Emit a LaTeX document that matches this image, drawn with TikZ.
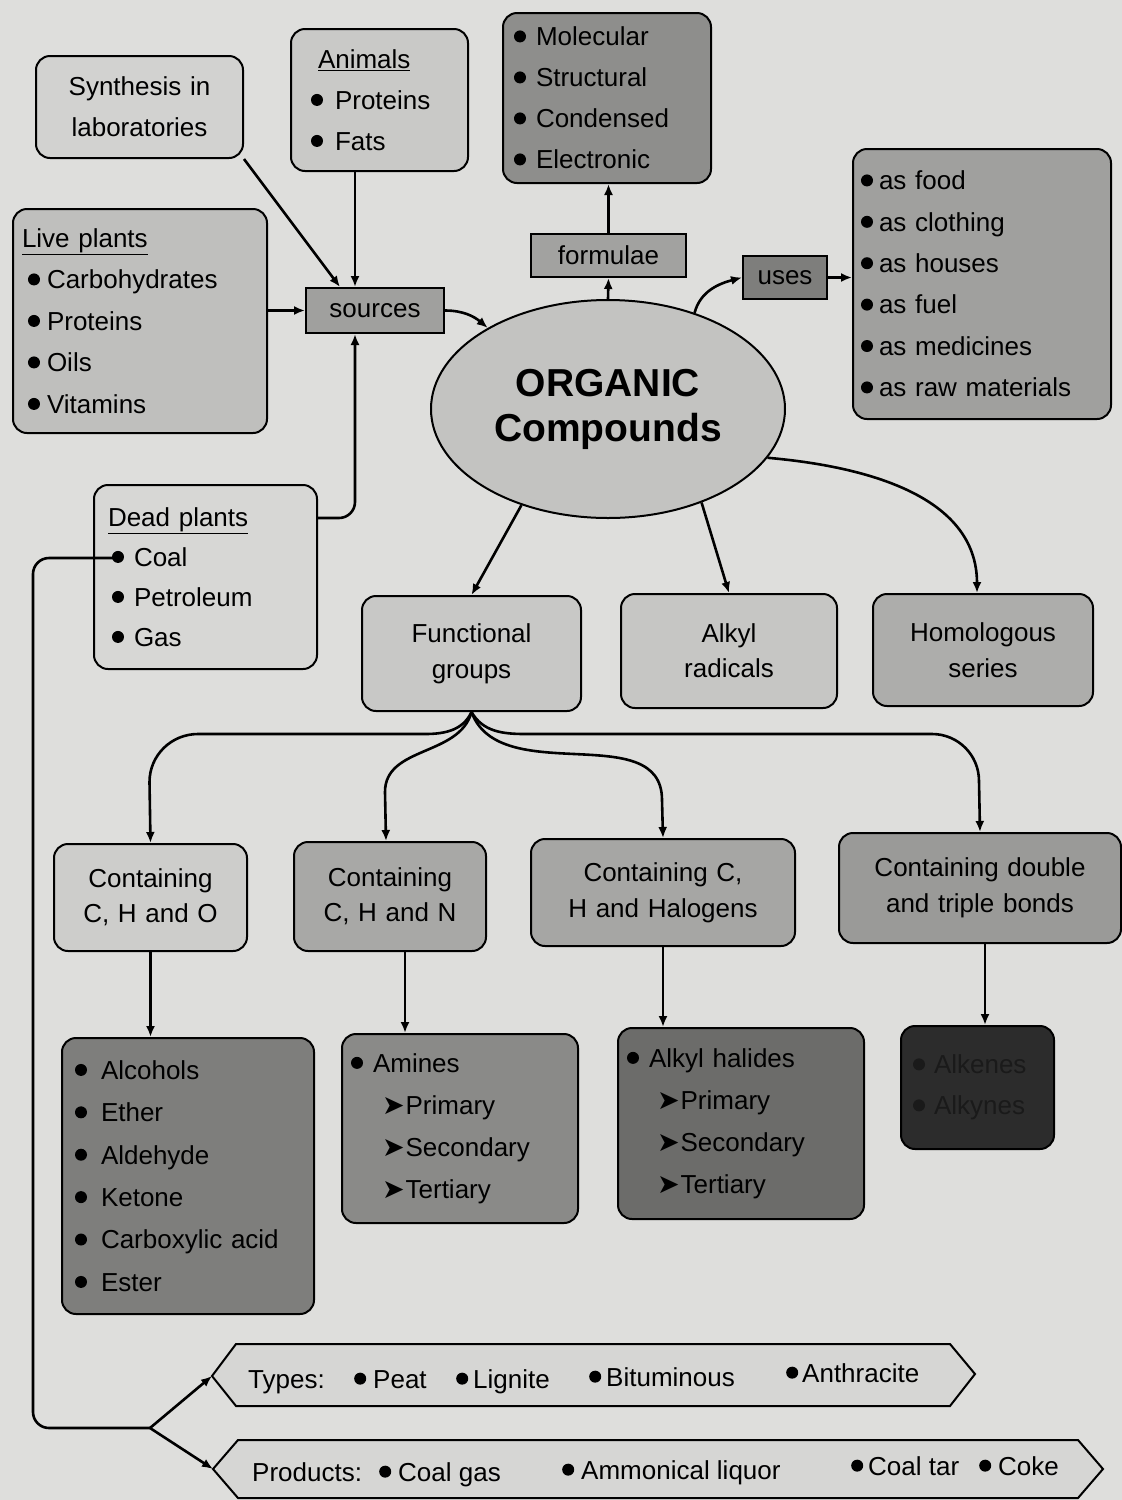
\documentclass[tikz,border=0pt]{standalone}
\usepackage{fontspec}
\setmainfont{Liberation Sans}
\newfontfamily\dejavu{DejaVu Sans}
\usetikzlibrary{arrows.meta,shapes.geometric,calc}
\definecolor{bg}{HTML}{DEDEDC}
\definecolor{cSyn}{HTML}{D2D2D0}
\definecolor{cAni}{HTML}{C9C9C7}
\definecolor{cForm}{HTML}{8E8E8C}
\definecolor{cFormR}{HTML}{A2A2A0}
\definecolor{cUsesR}{HTML}{7E7E7C}
\definecolor{cUses}{HTML}{A0A09E}
\definecolor{cLive}{HTML}{BFBFBD}
\definecolor{cSrc}{HTML}{A0A09E}
\definecolor{cOrg}{HTML}{C3C3C1}
\definecolor{cDead}{HTML}{D7D7D5}
\definecolor{cFunc}{HTML}{C8C8C6}
\definecolor{cAlkyl}{HTML}{C6C6C4}
\definecolor{cHom}{HTML}{ADADAB}
\definecolor{cCHO}{HTML}{CDCDCB}
\definecolor{cCHN}{HTML}{A8A8A6}
\definecolor{cCHX}{HTML}{A6A6A4}
\definecolor{cCDT}{HTML}{9A9A98}
\definecolor{cAlc}{HTML}{7E7E7C}
\definecolor{cAmi}{HTML}{8A8A88}
\definecolor{cHal}{HTML}{6C6C6A}
\definecolor{cDark}{HTML}{2C2C2C}
\definecolor{cDarkTxt}{HTML}{1A1A1A}
\definecolor{cBan}{HTML}{D6D6D4}
\newcommand\mybul{\tikz[x=1cm,y=1cm,baseline=-0.36em]\fill (0,0) circle (6pt);}
\newcommand\myarr{{\dejavu\fontsize{27}{27}\selectfont ➤}}
\tikzset{
  box/.style={draw, line width=2pt, rounded corners=14pt, inner sep=0pt, anchor=north west},
  rbox/.style={draw, line width=2pt, inner sep=0pt, anchor=north west, align=center},
  arr/.style={line width=2.6pt, -{Latex[length=11pt,width=9pt]}},
  conn/.style={line width=2.6pt},
  lbl/.style={anchor=base west, inner sep=0pt},
}
\begin{document}
\begin{tikzpicture}[x=1pt,y=-1pt,font=\fontsize{26}{41}\selectfont]
\useasboundingbox (0,0) rectangle (1122,1500);
\fill[bg] (0,0) rectangle (1122,1500);

% ---- top row
\node[box, fill=cSyn, minimum width=207pt, minimum height=102pt, text width=207pt, align=center] (synth) at (35,55) {Synthesis in\\laboratories};
\node[box, fill=cAni, minimum width=177pt, minimum height=142pt, inner xsep=20pt, text width=137pt, align=left] (animals) at (290,28)
  {\hspace*{7pt}\underline{Animals}\\\mybul\hspace{12pt}Proteins\\\mybul\hspace{12pt}Fats};
\node[box, fill=cForm, minimum width=208pt, minimum height=170pt, inner xsep=11pt, text width=186pt, align=left] (formbox) at (502,12)
  {\mybul\hspace{10pt}Molecular\\\mybul\hspace{10pt}Structural\\\mybul\hspace{10pt}Condensed\\\mybul\hspace{10pt}Electronic};
\node[rbox, fill=cFormR, minimum width=155pt, minimum height=43pt] (formulae) at (530,233) {formulae};
\node[rbox, fill=cUsesR, minimum width=84pt, minimum height=43pt] (uses) at (742,255) {uses};
\node[box, fill=cUses, minimum width=258pt, minimum height=270pt, inner xsep=8pt, text width=242pt, align=left, font=\fontsize{26}{41.4}\selectfont] (usesbox) at (852,148)
  {\mybul\hspace{6pt}as food\\\mybul\hspace{6pt}as clothing\\\mybul\hspace{6pt}as houses\\\mybul\hspace{6pt}as fuel\\\mybul\hspace{6pt}as medicines\\\mybul\hspace{6pt}as raw materials};

% ---- sources side
\node[box, fill=cLive, minimum width=254pt, minimum height=224pt, inner xsep=9pt, text width=236pt, align=left, font=\fontsize{26}{41.5}\selectfont] (live) at (12,208)
  {\underline{Live plants}\\\hspace*{6pt}\mybul\hspace{7pt}Carbohydrates\\\hspace*{6pt}\mybul\hspace{7pt}Proteins\\\hspace*{6pt}\mybul\hspace{7pt}Oils\\\hspace*{6pt}\mybul\hspace{7pt}Vitamins};
\node[rbox, fill=cSrc, minimum width=138pt, minimum height=45pt] (sources) at (305,287) {sources};
\node[box, fill=cDead, minimum width=223pt, minimum height=184pt, inner xsep=14pt, text width=195pt, align=left, font=\fontsize{26}{40}\selectfont] (dead) at (93,484)
  {\underline{Dead plants}\\\hspace*{4pt}\mybul\hspace{10pt}Coal\\\hspace*{4pt}\mybul\hspace{10pt}Petroleum\\\hspace*{4pt}\mybul\hspace{10pt}Gas};

% ---- centre
\node[ellipse, draw, line width=2pt, fill=cOrg, minimum width=354pt, minimum height=218pt, inner sep=0pt, align=center, font=\bfseries\fontsize{39}{45}\selectfont] (org) at (608,409) {ORGANIC\\Compounds};

\node[box, fill=cFunc, minimum width=219pt, minimum height=115pt, text width=219pt, align=center, font=\fontsize{26}{36}\selectfont] (func) at (361,595) {Functional\\groups};
\node[box, fill=cAlkyl, minimum width=216pt, minimum height=114pt, text width=216pt, align=center, font=\fontsize{26}{35}\selectfont] (alkyl) at (620,593) {Alkyl\\radicals};
\node[box, fill=cHom, minimum width=220pt, minimum height=112pt, text width=220pt, align=center, font=\fontsize{26}{36}\selectfont] (homol) at (872,593) {Homologous\\series};

% ---- containing row
\node[box, fill=cCHO, minimum width=193pt, minimum height=107pt, text width=193pt, align=center, font=\fontsize{26}{35}\selectfont] (cho) at (53,843) {Containing\\C, H and O};
\node[box, fill=cCHN, minimum width=192pt, minimum height=109pt, text width=192pt, align=center, font=\fontsize{26}{35}\selectfont] (chn) at (293,841) {Containing\\C, H and N};
\node[box, fill=cCHX, minimum width=264pt, minimum height=107pt, text width=264pt, align=center, font=\fontsize{26}{36}\selectfont] (chhal) at (530,838) {Containing C,\\H and Halogens};
\node[box, fill=cCDT, minimum width=282pt, minimum height=110pt, text width=282pt, align=center, font=\fontsize{26}{36}\selectfont] (chdt) at (838,832) {Containing double\\and triple bonds};

% ---- lower row
\node[box, fill=cAlc, minimum width=252pt, minimum height=276pt, inner xsep=13pt, text width=226pt, align=left, font=\fontsize{26}{42.4}\selectfont] (alc) at (61,1037)
  {\mybul\hspace{14pt}Alcohols\\\mybul\hspace{14pt}Ether\\\mybul\hspace{14pt}Aldehyde\\\mybul\hspace{14pt}Ketone\\\mybul\hspace{14pt}Carboxylic acid\\\mybul\hspace{14pt}Ester};
\node[box, fill=cAmi, minimum width=236pt, minimum height=189pt, inner xsep=9pt, text width=218pt, align=left, font=\fontsize{26}{42}\selectfont] (amines) at (341,1033)
  {\mybul\hspace{10pt}Amines\\\hspace*{31pt}\myarr\hspace{1pt}Primary\\\hspace*{31pt}\myarr\hspace{1pt}Secondary\\\hspace*{31pt}\myarr\hspace{1pt}Tertiary};
\node[box, fill=cHal, minimum width=246pt, minimum height=191pt, inner xsep=9pt, text width=228pt, align=left, font=\fontsize{26}{42}\selectfont] (alkhal) at (617,1027)
  {\mybul\hspace{10pt}Alkyl halides\\\hspace*{30pt}\myarr\hspace{1pt}Primary\\\hspace*{30pt}\myarr\hspace{1pt}Secondary\\\hspace*{30pt}\myarr\hspace{1pt}Tertiary};
\node[box, fill=cDark, text=cDarkTxt, minimum width=153pt, minimum height=123pt, inner xsep=12pt, text width=129pt, align=left, font=\fontsize{26}{41}\selectfont] (dark) at (900,1025)
  {\mybul\hspace{9pt}Alkenes\\\mybul\hspace{9pt}Alkynes};

% ---- banners
\coordinate (typestip) at (212,1376);
\coordinate (prodtip) at (213,1469);
\draw[line width=2pt, fill=cBan] (typestip) -- (236,1344) -- (950,1344) -- (975,1374) -- (950,1406) -- (236,1406) -- cycle;
\draw[line width=2pt, fill=cBan] (prodtip) -- (238,1440) -- (1078,1440) -- (1103,1469) -- (1078,1498) -- (238,1498) -- cycle;

\node[lbl] (tT) at (248,1388) {Types:};
\node[lbl] (tP) at (354,1388) {\mybul\hspace{7pt}Peat};
\node[lbl] (tL) at (456,1388) {\mybul\hspace{5pt}Lignite};
\node[lbl] (tB) at (589,1386) {\mybul\hspace{5pt}Bituminous};
\node[lbl] (tA) at (786,1382) {\mybul\hspace{4pt}Anthracite};
\node[lbl] (pP) at (252,1481) {Products:};
\node[lbl] (pG) at (379,1481) {\mybul\hspace{7pt}Coal gas};
\node[lbl] (pA) at (562,1479) {\mybul\hspace{7pt}Ammonical liquor};
\node[lbl] (pT) at (851,1475) {\mybul\hspace{5pt}Coal tar};
\node[lbl] (pC) at (979,1475) {\mybul\hspace{7pt}Coke};

% ---- connectors
\draw[arr] (synth.south east) -- ([xshift=35pt]sources.north west);
\draw[arr] ([xshift=65pt]animals.south west) -- ([xshift=50pt]sources.north west);
\draw[arr] (live.east |- sources.west) -- (sources.west);
\draw[arr, rounded corners=16pt] ([yshift=-34pt]dead.north east) -| ([xshift=50pt]sources.south west);
\draw[arr] (sources.east) to[out=0,in=140] (org.146);
\draw[arr] (org.north) -- (formulae.south);
\draw[arr] (formulae.north) -- (formulae.north |- formbox.south);
\draw[arr] (org.48) to[out=75,in=195] (uses.west);
\draw[arr] (uses.east) -- (uses.east -| usesbox.west);
\draw[arr] (org.-132) -- (func.north);
\draw[arr] (org.-45) -- (alkyl.north);
\draw[arr] (org.-17) to[out=-5,in=90] ([xshift=-6pt]homol.north);

\draw[arr] (func.south) to[out=-115,in=0] (425,734) -- (198,734) to[out=180,in=90] (149.5,782) -- (cho.north);
\draw[arr] (func.south) to[out=-105,in=90] (385,792) -- ([xshift=-4pt]chn.north);
\draw[arr] (func.south) to[out=-70,in=90] (662,800) -- (chhal.north);
\draw[arr] (func.south) to[out=-60,in=180] (525,734) -- (932,734) to[out=0,in=90] (979,781) -- (chdt.north);

\draw[arr] (cho.south) -- (cho.south |- alc.north);
\draw[arr] ([xshift=15pt]chn.south) -- ([xshift=15pt]chn.south |- amines.north);
\draw[arr] (chhal.south) -- (chhal.south |- alkhal.north);
\draw[arr] ([xshift=5pt]chdt.south) -- ([xshift=5pt]chdt.south |- dark.north);

\coordinate (coalpt) at (117,558);
\coordinate (split) at (150,1428);
\draw[conn, rounded corners=16pt] (coalpt) -- (33,558) -- (33,1428) -- (split);
\draw[arr] (split) -- (typestip);
\draw[arr] (split) -- (prodtip);
\end{tikzpicture}
\end{document}
